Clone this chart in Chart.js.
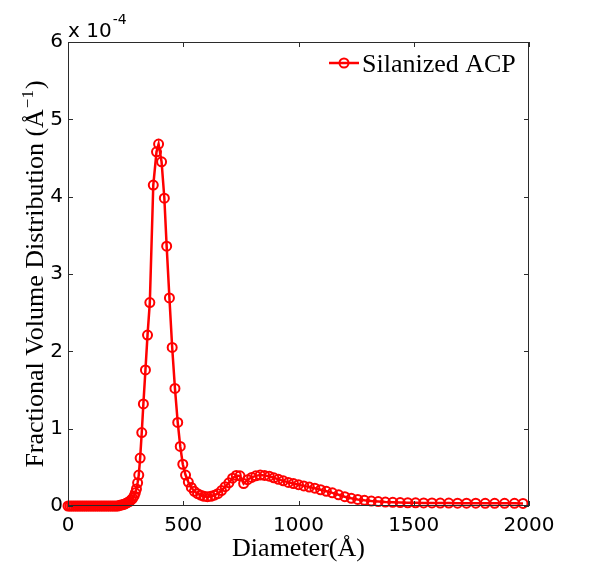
<!DOCTYPE html>
<html>
<head>
<meta charset="utf-8">
<script src="https://cdn.jsdelivr.net/npm/chart.js@4.4.0/dist/chart.umd.min.js"></script>
<style>
  html, body { margin: 0; padding: 0; background: #ffffff; }
  canvas { display: block; }
</style>
</head>
<body>
<canvas id="sizeChart" width="600" height="569"></canvas>
<script>
// diameter (Å)
const diameters = [
  0, 8, 16, 24, 32, 40, 48, 56, 64, 72, 80, 88, 96, 104, 112, 120, 128, 136, 144, 152,
  160, 168, 176, 184, 192, 200, 208, 216, 224, 231, 237, 243, 249, 255, 261, 268, 274, 281,
  287, 292, 297, 302, 307, 313, 320, 327, 336, 345, 355, 370, 384, 393, 406, 418, 428, 440,
  452, 464, 476, 487, 498, 510, 522, 535, 548, 562, 576, 590, 605, 620, 635, 650, 666, 682,
  698, 714, 730, 746, 762, 779, 797, 815, 834, 853, 873, 893, 913, 934, 956, 978, 1000, 1023,
  1047, 1071, 1096, 1121, 1147, 1174, 1201, 1229, 1257, 1286, 1316, 1346, 1377, 1409, 1441,
  1474, 1508, 1543, 1579, 1615, 1652, 1690, 1729, 1769, 1810, 1851, 1894, 1937, 1974
];
// fractional volume distribution, in units of 1e-4 per Å
const volumeDist = [
  0, 0, 0, 0, 0, 0, 0, 0, 0, 0, 0, 0, 0, 0, 0, 0, 0, 0, 0, 0,
  0, 0, 0, 0, 0, 0, 0, 0, 0.01, 0.01, 0.02, 0.02, 0.03, 0.04, 0.05, 0.06, 0.08, 0.10,
  0.13, 0.17, 0.22, 0.30, 0.40, 0.62, 0.95, 1.32, 1.76, 2.21, 2.63, 4.15, 4.58, 4.68, 4.45, 3.98, 3.36, 2.69,
  2.05, 1.52, 1.08, 0.77, 0.54, 0.40, 0.31, 0.24, 0.19, 0.16, 0.14, 0.125, 0.12, 0.125, 0.14, 0.16, 0.20, 0.25,
  0.30, 0.36, 0.395, 0.39, 0.29, 0.34, 0.37, 0.39, 0.40, 0.395, 0.385, 0.365, 0.345, 0.325, 0.305, 0.29, 0.275, 0.26,
  0.245, 0.23, 0.21, 0.19, 0.17, 0.145, 0.12, 0.10, 0.085, 0.073, 0.064, 0.057, 0.051, 0.047, 0.044,
  0.042, 0.041, 0.04, 0.039, 0.038, 0.038, 0.037, 0.036, 0.036, 0.035, 0.035, 0.034, 0.034, 0.033
];
const xTicks = [0, 500, 1000, 1500, 2000];
const yTicks = [0, 1, 2, 3, 4, 5, 6];
const seriesLabel = 'Silanized ACP';
const xTitle = 'Diameter(Å)';
const yTitleMain = 'Fractional Volume Distribution (Å';
const yTitleSup = '\u22121';
const expBase = 'x 10';
const expSup = '-4';

const RED = '#ff0000';
const FRAME = '#2b2b2b';
const SANS = '"DejaVu Sans", sans-serif';
const SERIF = '"Liberation Serif", serif';

// MATLAB style box, inward ticks, titles and legend
const decorPlugin = {
    id: 'decor',
    afterDraw(chart) {
        const ctx = chart.ctx;
        const a = chart.chartArea;
        const xs = chart.scales.x;
        const ys = chart.scales.y;
        const tl = 5;

        ctx.save();
        ctx.strokeStyle = FRAME;
        ctx.lineWidth = 1;
        ctx.strokeRect(a.left + 0.5, a.top + 0.5, a.right - a.left - 1, a.bottom - a.top - 1);
        ctx.beginPath();
        xTicks.forEach(v => {
            const px = Math.round(xs.getPixelForValue(v)) + 0.5;
            ctx.moveTo(px, a.bottom);
            ctx.lineTo(px, a.bottom - tl);
            ctx.moveTo(px, a.top);
            ctx.lineTo(px, a.top + tl);
        });
        yTicks.forEach(v => {
            const py = Math.round(ys.getPixelForValue(v)) + 0.5;
            ctx.moveTo(a.left, py);
            ctx.lineTo(a.left + tl, py);
            ctx.moveTo(a.right, py);
            ctx.lineTo(a.right - tl, py);
        });
        ctx.stroke();

        // exponent label
        ctx.fillStyle = '#000';
        ctx.textBaseline = 'alphabetic';
        ctx.textAlign = 'left';
        ctx.font = '20px ' + SANS;
        ctx.fillText(expBase, a.left, 37);
        const bw = ctx.measureText(expBase).width;
        ctx.font = '14px ' + SANS;
        ctx.fillText(expSup, a.left + bw + 1, 24);

        // x title
        ctx.font = '26px ' + SERIF;
        ctx.textAlign = 'center';
        ctx.fillText(xTitle, (a.left + a.right) / 2, 556);

        // y title (rotated, with superscript)
        ctx.save();
        ctx.font = '26px ' + SERIF;
        const mw = ctx.measureText(yTitleMain).width;
        ctx.font = '17px ' + SERIF;
        const sw = ctx.measureText(yTitleSup).width;
        ctx.font = '26px ' + SERIF;
        const cw = ctx.measureText(')').width;
        const total = mw + sw + 2 + cw;
        const cy = (a.top + a.bottom) / 2;
        ctx.translate(43, cy + total / 2);
        ctx.rotate(-Math.PI / 2);
        ctx.textAlign = 'left';
        ctx.fillText(yTitleMain, 0, 0);
        ctx.font = '17px ' + SERIF;
        ctx.fillText(yTitleSup, mw + 1, -10);
        ctx.font = '26px ' + SERIF;
        ctx.fillText(')', mw + sw + 2, 0);
        ctx.restore();

        // legend
        const ly = 63;
        ctx.strokeStyle = RED;
        ctx.lineWidth = 2.5;
        ctx.beginPath();
        ctx.moveTo(329, ly);
        ctx.lineTo(359, ly);
        ctx.stroke();
        ctx.lineWidth = 2;
        ctx.beginPath();
        ctx.arc(344, ly, 4.5, 0, Math.PI * 2);
        ctx.stroke();
        ctx.fillStyle = '#000';
        ctx.font = '26px ' + SERIF;
        ctx.textAlign = 'left';
        ctx.fillText(seriesLabel, 362, 72);
        ctx.restore();
    }
};

const points = diameters.map((d, i) => ({ x: d, y: volumeDist[i] }));

new Chart(document.getElementById('sizeChart').getContext('2d'), {
    type: 'line',
    data: {
        datasets: [{
            label: seriesLabel,
            data: points,
            borderColor: RED,
            borderWidth: 2.5,
            pointRadius: 4.5,
            pointBorderWidth: 2,
            pointBorderColor: RED,
            pointBackgroundColor: 'rgba(0,0,0,0)',
            tension: 0,
            clip: false
        }]
    },
    options: {
        responsive: false,
        animation: false,
        devicePixelRatio: 1,
        layout: { padding: { left: 0, top: 42, right: 71, bottom: 0 } },
        plugins: {
            legend: { display: false },
            tooltip: { enabled: false }
        },
        scales: {
            x: {
                type: 'linear',
                min: 0,
                max: 2000,
                afterBuildTicks: s => { s.ticks = xTicks.map(v => ({ value: v })); },
                afterFit: s => { s.height = 63; },
                grid: { display: false, drawTicks: false },
                border: { display: false },
                ticks: {
                    color: '#000',
                    font: { family: 'DejaVu Sans', size: 20 },
                    padding: 8,
                    maxRotation: 0,
                    callback: v => String(v)
                }
            },
            y: {
                type: 'linear',
                min: 0,
                max: 6,
                afterBuildTicks: s => { s.ticks = yTicks.map(v => ({ value: v })); },
                afterFit: s => { s.width = 68; },
                grid: { display: false, drawTicks: false },
                border: { display: false },
                ticks: {
                    color: '#000',
                    font: { family: 'DejaVu Sans', size: 20 },
                    padding: 5,
                    callback: v => String(v)
                }
            }
        }
    },
    plugins: [decorPlugin]
});
</script>
</body>
</html>
